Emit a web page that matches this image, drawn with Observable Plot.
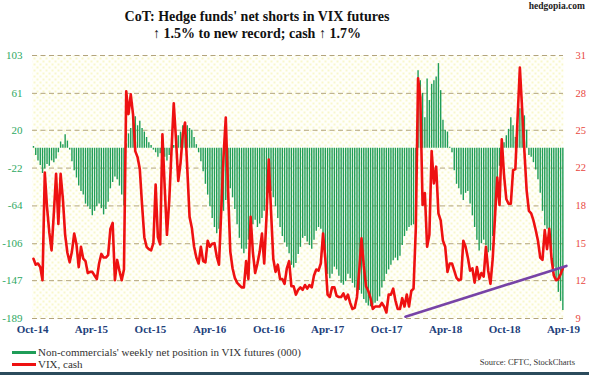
<!DOCTYPE html>
<html>
<head>
<meta charset="utf-8">
<script src="https://cdn.jsdelivr.net/npm/d3@7"></script>
<script src="https://cdn.jsdelivr.net/npm/@observablehq/plot@0.6"></script>
<style>
  html, body { margin: 0; padding: 0; background: #fff; }
  #wrap { position: relative; width: 589px; height: 375px; overflow: hidden; font-family: "Liberation Serif", "Times New Roman", serif; }
  #chart { position: absolute; left: 0; top: 0; }
  .t { position: absolute; white-space: nowrap; }
  #site { right: 4px; top: 1px; font-size: 9.5px; font-weight: bold; color: #222; }
  #title { left: 0; width: 514px; text-align: center; top: 8px; font-size: 14px; font-weight: bold; color: #111; line-height: 17px; }
  #leg1, #leg2 { left: 12px; font-size: 11px; color: #333; }
  #leg1 { top: 346px; } #leg2 { top: 358px; }
  .sw { display: inline-block; width: 24px; height: 3px; vertical-align: middle; margin-right: 2px; position: relative; top: -1px; }
  #src { right: 14px; top: 357px; font-size: 8.5px; color: #333; }
  #bottom { position: absolute; left: 0; right: 0; top: 372px; height: 3px; background: #2b4b5c; }
</style>
</head>
<body>
<div id="wrap">
  <div id="chart"></div>
  <div class="t" id="site">hedgopia.com</div>
  <div class="t" id="title">CoT: Hedge funds' net shorts in VIX futures<br>↑ 1.5% to new record; cash ↑ 1.7%</div>
  <div class="t" id="leg1"><span class="sw" style="background:#1f9d58"></span>Non-commercials' weekly net position in VIX futures (000)</div>
  <div class="t" id="leg2"><span class="sw" style="background:#ee1111"></span>VIX, cash</div>
  <div class="t" id="src">Source: CFTC, StockCharts</div>
  <div id="bottom"></div>
</div>
<script>
// ---- data ----
const startDate = "2014-10-04"; // first weekly observation
const netPos = [
  2, -8, -14, -19, -28, -23, -18, -20, -14, -16, -12, -5, 7, 4, 15, 8, -2, -15, -25, -33,
  -42, -48, -52, -62, -65, -68, -75, -70, -65, -62, -67, -74, -68, -60, -45, -38, -32, -35, -42, -52,
  -64, 5, 16, 22, 38, 35, 25, 30, 22, 18, 12, 6, 3, -2, -5, -10, -6, -4, -10, -14,
  -8, -3, 3, 8, 14, 18, 25, 27, 25, 22, 20, 12, 4, -5, -15, -26, -40, -52, -65, -78,
  -88, -95, -90, -82, -70, -58, -50, -45, -55, -68, -85, -100, -112, -117, -112, -102, -92, -85, -80, -88,
  -84, -78, -70, -62, -50, -48, -55, -65, -78, -88, -98, -105, -110, -117, -130, -133, -128, -118, -110, -100,
  -98, -104, -108, -112, -102, -92, -88, -90, -105, -125, -140, -145, -140, -132, -135, -142, -150, -152, -148, -140,
  -145, -150, -155, -160, -158, -162, -168, -172, -175, -176, -174, -172, -170, -165, -155, -148, -140, -135, -130, -125,
  -122, -125, -120, -108, -98, -92, -88, -86, -85, -75, 86, 75, 61, 34, 77, 53, 71, 75, 79, 94,
  64, 31, 20, 18, 1, -5, -25, -40, -45, -52, -58, -50, -48, -62, -75, -88, -102, -114, -106, -102,
  -108, -116, -114, -98, -78, -55, -20, 3, 6, 14, 21, 34, 25, 12, 25, 44, 53, 36, 20, -8,
  -10, -16, -24, -35, -50, -70, -86, -90, -97, -115, -132, -147, -160, -170, -180
];
const vix = [
  14.0, 13.5, 13.6, 13.3, 12.2, 21.2, 18.3, 16.2, 14.7, 17.8, 21.1, 16.9, 21.1, 19.0, 16.0, 14.5, 13.7, 14.6, 16.1, 15.2,
  13.3, 15.0, 14.0, 13.8, 12.8, 12.9, 12.9, 12.6, 12.3, 13.6, 14.4, 14.1, 14.1, 14.3, 16.5, 17.0, 12.2, 13.9, 13.0, 12.2,
  13.1, 28.0, 26.1, 27.75, 26.1, 23.0, 22.5, 21.5, 18.5, 15.8, 15.0, 14.8, 14.7, 15.3, 20.2, 15.8, 15.2, 24.4, 20.0, 16.0,
  18.8, 23.0, 27.0, 24.0, 20.5, 22.0, 24.4, 25.4, 21.5, 17.5, 16.6, 15.0, 14.1, 13.6, 15.0, 13.8, 13.7, 15.5, 15.0, 15.25,
  15.3, 14.2, 13.5, 18.0, 22.5, 25.8, 19.8, 14.6, 13.2, 12.4, 12.0, 11.8, 11.6, 11.6, 13.8, 12.3, 17.5, 14.5, 12.8, 13.6,
  14.6, 16.1, 13.6, 17.5, 22.3, 18.0, 14.0, 12.9, 13.5, 12.3, 12.3, 11.9, 13.2, 13.8, 11.7, 11.7, 11.0, 11.4, 11.6, 11.4,
  11.8, 11.5, 11.8, 11.6, 12.6, 13.1, 13.0, 13.6, 16.1, 14.0, 11.0, 10.8, 11.6, 11.6, 10.9, 10.8, 10.8, 11.1, 10.6, 11.0,
  10.3, 9.8, 9.9, 10.8, 13.0, 15.7, 13.4, 11.7, 11.3, 10.7, 9.8, 10.0, 10.0, 10.0, 10.3, 10.0, 9.5, 11.0, 11.0, 11.5,
  10.5, 9.8, 9.8, 10.7, 10.0, 11.0, 10.0, 11.3, 11.5, 16.5, 29.1, 27.5, 18.5, 19.5, 15.0, 16.0, 23.0, 20.3, 21.7, 17.8,
  17.2, 15.5, 15.0, 12.9, 13.6, 13.6, 13.0, 12.4, 12.2, 12.3, 15.5, 15.0, 14.1, 13.0, 13.2, 12.0, 13.3, 12.3, 12.8, 12.5,
  15.0, 13.0, 11.9, 14.0, 17.5, 20.8, 18.5, 24.0, 21.0, 19.0, 18.6, 18.6, 21.4, 21.5, 25.8, 30.0, 26.5, 23.0, 19.7, 18.0,
  17.8, 17.2, 16.4, 15.5, 14.1, 13.9, 16.4, 14.8, 16.5, 14.0, 12.6, 12.2, 12.3, 12.7, 13.2
];
const trendDates = ["2017-11-28", "2019-04-10"];
const trendVix = [9.15, 13.4];
const leftTicks = [103, 61, 20, -22, -64, -106, -147, -189];
const rightTicks = [31, 28, 25, 22, 18, 15, 12, 9];
const xTickLabels = ["Oct-14", "Apr-15", "Oct-15", "Apr-16", "Oct-16", "Apr-17", "Oct-17", "Apr-18", "Oct-18", "Apr-19"];

// ---- build ----
const start = new Date(startDate);
const rows = netPos.map((v, i) => ({ date: d3.utcDay.offset(start, 7 * i), net: v, vix: vix[i] }));
const trend = trendDates.map((d, i) => ({ date: new Date(d), vix: trendVix[i] }));
const parseM = d3.utcParse("%b-%y");
const xTicks = xTickLabels.map(parseM);
const vixToLeft = d3.scaleLinear([9, 31], [-189, 103]);

const chart = Plot.plot({
  width: 589, height: 375,
  marginLeft: 32, marginRight: 26, marginTop: 55, marginBottom: 57,
  style: { fontFamily: "Liberation Serif, serif", background: "transparent", overflow: "visible" },
  x: { type: "utc", domain: [new Date("2014-10-01"), new Date("2019-04-01")] },
  y: { domain: [-189, 103] },
  marks: [
    Plot.frame({ fill: "url(#dots)", stroke: "none" }),
    Plot.gridY(leftTicks, { stroke: "#b3a47c", strokeOpacity: 1, strokeDasharray: "5,3.5", strokeWidth: 1 }),
    Plot.ruleX(rows, { x: "date", y1: 0, y2: "net", stroke: "#1f9d58", strokeWidth: 1.4 }),
    Plot.line(rows, { x: "date", y: d => vixToLeft(d.vix), stroke: "#ee1111", strokeWidth: 2.6, strokeLinejoin: "round" }),
    Plot.line(trend, { x: "date", y: d => vixToLeft(d.vix), stroke: "#7743a6", strokeWidth: 2.6 }),
    Plot.axisY({ ticks: leftTicks, tickSize: 0, tickPadding: 10, fill: "#2ea862", fontSize: 11, tickFormat: d => String(d), label: null }),
    Plot.axisY({ anchor: "right", ticks: leftTicks, tickSize: 0, tickPadding: 12, fill: "#e8463e", fontSize: 10.5, tickFormat: d => String(rightTicks[leftTicks.indexOf(d)]), label: null }),
    Plot.axisX({ ticks: xTicks, tickSize: 0, tickPadding: 7, fill: "#22407a", fontSize: 11, fontWeight: "bold", tickFormat: d => xTickLabels[xTicks.findIndex(t => +t === +d)], label: null })
  ]
});

// dotted background pattern for the plot frame
const ns = "http://www.w3.org/2000/svg";
const defs = document.createElementNS(ns, "defs");
const pat = document.createElementNS(ns, "pattern");
pat.setAttribute("id", "dots"); pat.setAttribute("width", "6"); pat.setAttribute("height", "6");
pat.setAttribute("patternUnits", "userSpaceOnUse");
const bg = document.createElementNS(ns, "rect");
bg.setAttribute("width", "6"); bg.setAttribute("height", "6"); bg.setAttribute("fill", "#fffffa");
pat.appendChild(bg);
[[1, 1], [4, 4]].forEach(([cx, cy]) => {
  const c = document.createElementNS(ns, "circle");
  c.setAttribute("cx", cx); c.setAttribute("cy", cy); c.setAttribute("r", "0.8"); c.setAttribute("fill", "#f1ee90");
  pat.appendChild(c);
});
defs.appendChild(pat);
chart.insertBefore(defs, chart.firstChild);
document.getElementById("chart").appendChild(chart);
</script>
</body>
</html>
